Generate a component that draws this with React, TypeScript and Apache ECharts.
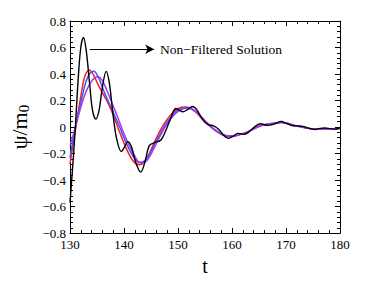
import React, { useEffect, useRef } from "react";
import * as echarts from "echarts";

const tBlack = [130, 130.5, 131, 131.5, 132, 132.5, 133, 133.7, 134.2, 134.8, 135.4, 136, 136.7, 137.3, 137.9, 138.6, 139.5, 140.1, 140.7, 141.4, 142.2, 143.1, 143.9, 144.7, 145.8, 146.8, 147.7, 148.6, 149.6, 150.3, 150.9, 151.7, 152.7, 153.5, 154.5, 155.5, 156.6, 157.6, 158.4, 159.3, 160.2, 161.1, 162.3, 163.2, 164.3, 165.3, 166.5, 167.8, 169.1, 170.2, 171.3, 172.3, 173.3, 174.3, 175.3, 176.3, 177.2, 178.2, 179.1, 180];
const yBlack = [-0.57, -0.3, 0.0, 0.35, 0.6, 0.675, 0.58, 0.3, 0.12, 0.06, 0.13, 0.3, 0.42, 0.33, 0.12, -0.08, -0.185, -0.15, -0.11, -0.15, -0.27, -0.34, -0.26, -0.14, -0.115, -0.1, -0.03, 0.06, 0.14, 0.125, 0.115, 0.13, 0.155, 0.13, 0.06, 0.02, 0.008, -0.02, -0.06, -0.085, -0.07, -0.048, -0.055, -0.035, 0.005, 0.025, 0.013, 0.022, 0.042, 0.025, 0.01, 0.008, 0.003, -0.01, -0.018, -0.01, -0.007, -0.012, -0.016, -0.005];

const tSmooth = [130, 130.6, 131.2, 132, 132.8, 133.6, 134.4, 135.2, 136, 136.8, 137.6, 138.4, 139.2, 140, 141, 142, 142.9, 143.8, 144.8, 145.8, 146.8, 147.6, 148.6, 149.6, 150.6, 151.5, 152.4, 153.4, 154.4, 155.4, 156.4, 157.4, 158.4, 159.4, 160.4, 161.4, 162.4, 163.4, 164.4, 165.4, 166.4, 167.4, 168.4, 169.2, 170.2, 171.2, 172.2, 173.2, 174.2, 175.2, 176.2, 177.2, 178.2, 179.2, 180];
const yRed = [-0.28, -0.12, 0.03, 0.23, 0.39, 0.43, 0.39, 0.32, 0.26, 0.2, 0.13, 0.05, -0.04, -0.12, -0.21, -0.27, -0.285, -0.26, -0.19, -0.1, -0.02, 0.035, 0.09, 0.13, 0.15, 0.152, 0.14, 0.11, 0.065, 0.025, -0.01, -0.04, -0.062, -0.07, -0.068, -0.058, -0.045, -0.025, -0.005, 0.012, 0.022, 0.027, 0.033, 0.036, 0.028, 0.016, 0.006, -0.002, -0.01, -0.016, -0.016, -0.012, -0.012, -0.012, -0.01];
const yBlue = [-0.23, -0.09, 0.04, 0.18, 0.32, 0.4, 0.42, 0.38, 0.3, 0.22, 0.15, 0.075, 0.0, -0.08, -0.17, -0.24, -0.27, -0.255, -0.2, -0.12, -0.045, 0.015, 0.07, 0.115, 0.14, 0.148, 0.14, 0.112, 0.07, 0.028, -0.008, -0.038, -0.06, -0.068, -0.066, -0.057, -0.044, -0.026, -0.006, 0.011, 0.021, 0.026, 0.032, 0.035, 0.028, 0.016, 0.006, -0.002, -0.01, -0.015, -0.016, -0.013, -0.012, -0.012, -0.01];
const yPurple = [-0.14, -0.06, 0.03, 0.15, 0.25, 0.32, 0.365, 0.38, 0.35, 0.28, 0.2, 0.12, 0.035, -0.05, -0.14, -0.22, -0.265, -0.265, -0.22, -0.14, -0.06, 0.0, 0.06, 0.105, 0.132, 0.142, 0.138, 0.115, 0.075, 0.032, -0.005, -0.035, -0.058, -0.067, -0.066, -0.057, -0.044, -0.027, -0.007, 0.01, 0.02, 0.025, 0.031, 0.034, 0.028, 0.017, 0.007, -0.001, -0.009, -0.014, -0.016, -0.014, -0.013, -0.013, -0.012];

const arrowStart = [133.66, 0.587];
const arrowEnd = [145.6, 0.587];
const annotationText = "Non\u2212Filtered Solution";

const FONT = "Liberation Serif";

const zip = (t: number[], y: number[]) => t.map((v, i) => [v, y[i]]);

const fmtY = (v: number) => {
  if (Math.abs(v) < 1e-9) return "0";
  const s = Math.abs(v).toFixed(1);
  return v < 0 ? "\u2212" + s : s;
};

export default function App() {
  const ref = useRef<HTMLDivElement>(null);
  useEffect(() => {
    if (!ref.current) return;
    const chart = echarts.init(ref.current, undefined, { renderer: "svg" });
    const tickCommon = {
      axisLine: { show: true, onZero: false, lineStyle: { color: "#000", width: 1 } },
      axisTick: { show: true, inside: true, length: 5, lineStyle: { color: "#000" } },
      minorTick: { show: true, splitNumber: 5, length: 3, lineStyle: { color: "#000" } },
      splitLine: { show: false },
      minorSplitLine: { show: false },
    };
    const lineS = (name: string, data: number[][], color: string, w: number, extra: any = {}) => ({
      type: "line",
      name,
      data,
      smooth: 0.35,
      showSymbol: false,
      symbol: "none",
      lineStyle: { color, width: w },
      itemStyle: { color },
      ...extra,
    });
    chart.setOption({
      animation: false,
      backgroundColor: "#fff",
      textStyle: { fontFamily: FONT },
      grid: { left: 60, top: 21, width: 280, height: 227 },
      xAxis: [
        {
          type: "value",
          min: 130,
          max: 180,
          interval: 10,
          position: "bottom",
          ...tickCommon,
          axisLabel: { color: "#000", fontFamily: FONT, fontSize: 13, margin: 5 },
          name: "t",
          nameLocation: "middle",
          nameGap: 21,
          nameTextStyle: { color: "#000", fontFamily: FONT, fontSize: 20 },
        },
        {
          type: "value",
          min: 130,
          max: 180,
          interval: 10,
          position: "top",
          ...tickCommon,
          axisLabel: { show: false },
        },
      ],
      yAxis: [
        {
          type: "value",
          min: -0.8,
          max: 0.8,
          interval: 0.2,
          position: "left",
          ...tickCommon,
          axisLabel: { color: "#000", fontFamily: FONT, fontSize: 13, margin: 4, formatter: fmtY },
          name: "{m|\u03c8/m}{s|0}",
          nameLocation: "middle",
          nameRotate: 90,
          nameGap: 36,
          nameTextStyle: {
            color: "#000",
            fontFamily: FONT,
            rich: {
              m: { fontSize: 22, fontFamily: FONT, color: "#000", verticalAlign: "middle" },
              s: { fontSize: 15, fontFamily: FONT, color: "#000", verticalAlign: "bottom", padding: [10, 0, 0, 0] },
            },
          },
        },
        {
          type: "value",
          min: -0.8,
          max: 0.8,
          interval: 0.2,
          position: "right",
          ...tickCommon,
          axisLabel: { show: false },
        },
      ],
      series: [
        lineS("red", zip(tSmooth, yRed), "#ff1a1a", 1.5),
        lineS("blue", zip(tSmooth, yBlue), "#3a55ff", 1.5),
        lineS("purple", zip(tSmooth, yPurple), "#a238f2", 1.5),
        lineS("black", zip(tBlack, yBlack), "#000000", 1.4, {
          markLine: {
            silent: true,
            symbol: ["none", "arrow"],
            symbolSize: [7, 9],
            label: { show: false },
            lineStyle: { color: "#000", width: 1, type: "solid" },
            data: [[{ coord: arrowStart }, { coord: arrowEnd }]],
          },
        }),
      ],
      graphic: [
        {
          type: "text",
          left: 160,
          top: 42,
          style: { text: annotationText, fontFamily: FONT, fontSize: 13.5, fill: "#000" },
        },
      ],
    });
    return () => chart.dispose();
  }, []);
  return (
    <div
      ref={ref}
      style={{ position: "fixed", left: 0, top: 0, width: 374, height: 281, background: "#fff" }}
    />
  );
}
